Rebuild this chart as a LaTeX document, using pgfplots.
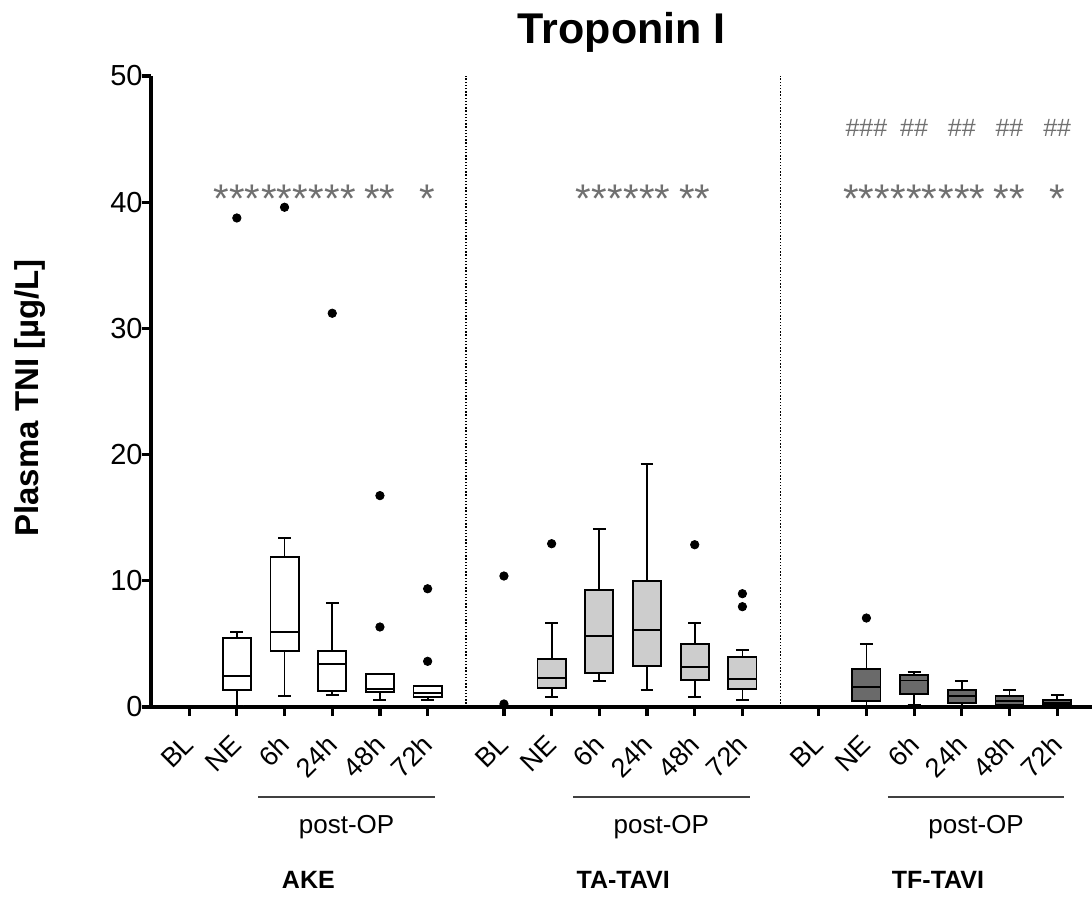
\documentclass[border=0pt]{standalone}
\usepackage{fontspec}
\setmainfont{Liberation Sans}
\usepackage{pgfplots}
\pgfplotsset{compat=1.18}
\usepgfplotslibrary{statistics}
\definecolor{lgray}{HTML}{CDCDCD}
\definecolor{dgray}{HTML}{6A6A6A}
\definecolor{sgray}{HTML}{707070}
\pgfplotsset{bx/.style={draw=black, line width=0.9pt, solid, boxplot/draw direction=y}}
\begin{document}
\begin{tikzpicture}
\path[use as bounding box] (-75.5pt,-100pt) rectangle (470.5pt,353.5pt);
\begin{axis}[
 at={(0,0)}, anchor=south west, scale only axis, width=470.5pt, height=315.5pt,
 xmin=-0.8, xmax=18.93, ymin=0, ymax=50,
 axis x line=bottom, axis y line=left, axis line style={-, line width=1.6pt},
 ytick={0,10,...,50},
 xtick={0,1,2,3,4,5,6.6,7.6,8.6,9.6,10.6,11.6,13.2,14.2,15.2,16.2,17.2,18.2},
 xticklabels={BL,NE,6h,24h,48h,72h,BL,NE,6h,24h,48h,72h,BL,NE,6h,24h,48h,72h},
 tick align=outside, xtick align=outside, major tick length=4.5pt,
 tick style={line width=1.6pt, black},
 /pgf/number format/assume math mode=true,
 yticklabel style={font=\fontsize{14.5}{16}\selectfont, inner sep=1pt, xshift=1.5pt},
 xticklabel style={font=\fontsize{13.5}{15}\selectfont, rotate=45, anchor=north east, inner sep=1pt, yshift=-2.5pt, xshift=-7.4pt},
 clip=false,
]
% separators
\draw[line width=0.8pt, dash pattern=on 0.7pt off 0.9pt] (axis cs:5.8,0) -- (axis cs:5.8,50);
\draw[line width=0.8pt, dash pattern=on 0.7pt off 0.9pt] (axis cs:12.4,0) -- (axis cs:12.4,50);

% AKE
\addplot[bx, fill=white, boxplot prepared={draw position=1, lower whisker=0.1, lower quartile=1.35, median=2.48, upper quartile=5.44, upper whisker=5.94, box extend=0.59, whisker extend=0.27}] coordinates {};
\addplot[bx, fill=white, boxplot prepared={draw position=2, lower whisker=0.85, lower quartile=4.44, median=5.94, upper quartile=11.9, upper whisker=13.37, box extend=0.59, whisker extend=0.27}] coordinates {};
\addplot[bx, fill=white, boxplot prepared={draw position=3, lower whisker=0.98, lower quartile=1.29, median=3.38, upper quartile=4.41, upper whisker=8.24, box extend=0.59, whisker extend=0.27}] coordinates {};
\addplot[bx, fill=white, boxplot prepared={draw position=4, lower whisker=0.53, lower quartile=1.19, median=1.40, upper quartile=2.64, upper whisker=2.64, box extend=0.59, whisker extend=0.27}] coordinates {};
\addplot[bx, fill=white, boxplot prepared={draw position=5, lower whisker=0.53, lower quartile=0.82, median=1.08, upper quartile=1.69, upper whisker=1.69, box extend=0.59, whisker extend=0.27}] coordinates {};

% TA-TAVI
\addplot[bx, fill=lgray, boxplot prepared={draw position=7.6, lower whisker=0.77, lower quartile=1.51, median=2.27, upper quartile=3.78, upper whisker=6.66, box extend=0.59, whisker extend=0.27}] coordinates {};
\addplot[bx, fill=lgray, boxplot prepared={draw position=8.6, lower whisker=2.06, lower quartile=2.67, median=5.63, upper quartile=9.3, upper whisker=14.13, box extend=0.59, whisker extend=0.27}] coordinates {};
\addplot[bx, fill=lgray, boxplot prepared={draw position=9.6, lower whisker=1.32, lower quartile=3.25, median=6.1, upper quartile=10.0, upper whisker=19.25, box extend=0.59, whisker extend=0.27}] coordinates {};
\addplot[bx, fill=lgray, boxplot prepared={draw position=10.6, lower whisker=0.77, lower quartile=2.11, median=3.14, upper quartile=4.97, upper whisker=6.66, box extend=0.59, whisker extend=0.27}] coordinates {};
\addplot[bx, fill=lgray, boxplot prepared={draw position=11.6, lower whisker=0.53, lower quartile=1.43, median=2.22, upper quartile=3.99, upper whisker=4.52, box extend=0.59, whisker extend=0.27}] coordinates {};

% TF-TAVI
\addplot[bx, fill=dgray, boxplot prepared={draw position=14.2, lower whisker=0.05, lower quartile=0.5, median=1.6, upper quartile=3.0, upper whisker=4.97, box extend=0.59, whisker extend=0.27}] coordinates {};
\addplot[bx, fill=dgray, boxplot prepared={draw position=15.2, lower whisker=0.2, lower quartile=1.03, median=2.1, upper quartile=2.56, upper whisker=2.8, box extend=0.59, whisker extend=0.27}] coordinates {};
\addplot[bx, fill=dgray, boxplot prepared={draw position=16.2, lower whisker=0.1, lower quartile=0.32, median=0.87, upper quartile=1.37, upper whisker=2.03, box extend=0.59, whisker extend=0.27}] coordinates {};
\addplot[bx, fill=dgray, boxplot prepared={draw position=17.2, lower whisker=0.05, lower quartile=0.13, median=0.5, upper quartile=0.9, upper whisker=1.32, box extend=0.59, whisker extend=0.27}] coordinates {};
\addplot[bx, fill=dgray, boxplot prepared={draw position=18.2, lower whisker=0.05, lower quartile=0.13, median=0.34, upper quartile=0.53, upper whisker=0.95, box extend=0.59, whisker extend=0.27}] coordinates {};

% outliers
\addplot[only marks, mark=*, mark size=2.1pt, black] coordinates {
 (1,38.75) (2,39.6) (3,31.2) (4,6.34) (4,16.75) (5,3.62) (5,9.37)
 (6.6,10.38) (6.6,0.24) (7.6,12.94) (10.6,12.86) (11.6,8.98) (11.6,7.95)
 (14.2,7.05)
};

% significance marks
\begin{scope}[every node/.style={text=sgray, font=\fontsize{20}{20}\selectfont, anchor=base, inner sep=0pt}]
\node at (axis cs:1,39.2) {***};
\node at (axis cs:2,39.2) {***};
\node at (axis cs:3,39.2) {***};
\node at (axis cs:4,39.2) {**};
\node at (axis cs:5,39.2) {*};
\node at (axis cs:8.6,39.2) {***};
\node at (axis cs:9.6,39.2) {***};
\node at (axis cs:10.6,39.2) {**};
\node at (axis cs:14.2,39.2) {***};
\node at (axis cs:15.2,39.2) {***};
\node at (axis cs:16.2,39.2) {***};
\node at (axis cs:17.2,39.2) {**};
\node at (axis cs:18.2,39.2) {*};
\end{scope}
\begin{scope}[every node/.style={text=sgray, font=\fontsize{12.5}{13}\selectfont, anchor=base, inner sep=0pt}]
\node at (axis cs:14.2,45.2) {\#\#\#};
\node at (axis cs:15.2,45.2) {\#\#};
\node at (axis cs:16.2,45.2) {\#\#};
\node at (axis cs:17.2,45.2) {\#\#};
\node at (axis cs:18.2,45.2) {\#\#};
\end{scope}

% post-OP
\draw[line width=0.7pt, black!75] (axis cs:1.45,-7.13) -- (axis cs:5.15,-7.13);
\draw[line width=0.7pt, black!75] (axis cs:8.05,-7.13) -- (axis cs:11.75,-7.13);
\draw[line width=0.7pt, black!75] (axis cs:14.65,-7.13) -- (axis cs:18.35,-7.13);
\begin{scope}[every node/.style={font=\fontsize{13}{15}\selectfont, anchor=base, inner sep=0pt}]
\node at (axis cs:3.3,-10.06) {post-OP};
\node at (axis cs:9.9,-10.06) {post-OP};
\node at (axis cs:16.5,-10.06) {post-OP};
\end{scope}
\begin{scope}[every node/.style={font=\bfseries\fontsize{12.5}{15}\selectfont, anchor=base, inner sep=0pt}]
\node at (axis cs:2.5,-14.4) {AKE};
\node at (axis cs:9.1,-14.4) {TA-TAVI};
\node at (axis cs:15.7,-14.4) {TF-TAVI};
\end{scope}
% title and y label
\node[font=\bfseries\fontsize{21.5}{24}\selectfont, anchor=base, inner sep=0pt] at (axis cs:9.07,52.6) {Troponin I};
\node[font=\bfseries\fontsize{16.5}{18}\selectfont, rotate=90, anchor=center, inner sep=0pt] at (axis cs:-3.33,24.5) {Plasma TNI [µg/L]};
\end{axis}
\end{tikzpicture}
\end{document}
